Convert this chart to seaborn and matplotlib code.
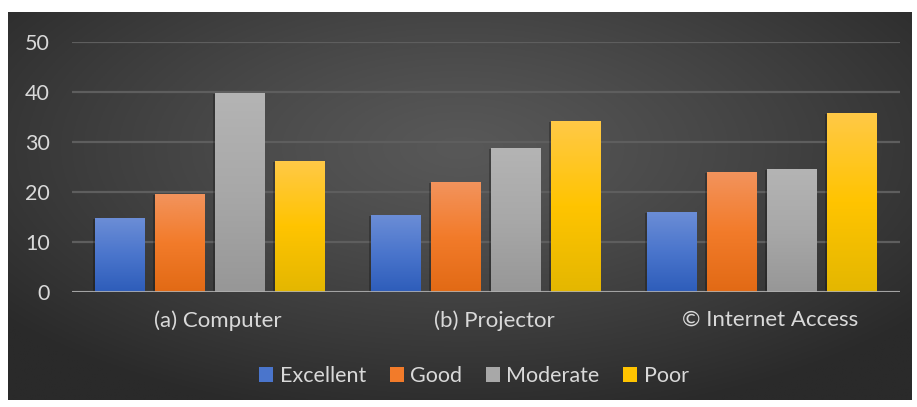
import numpy as np
import pandas as pd
import seaborn as sns
import matplotlib.pyplot as plt
import matplotlib.transforms as mtransforms
from matplotlib.patches import Patch
import matplotlib.patheffects as pe

# data
categories = ['(a) Computer', '(b) Projector', '© Internet Access']
levels = ['Excellent', 'Good', 'Moderate', 'Poor']
excellent = [14.8, 15.4, 16.0]
good = [19.6, 22.0, 24.0]
moderate = [39.8, 28.8, 24.6]
poor = [26.2, 34.2, 35.8]

# gradient colours per level (top, middle, bottom)
grad = {
    'Excellent': ['#6B8DD6', '#4A75CC', '#2E5DBA'],
    'Good': ['#F2935C', '#F27B2A', '#E26A15'],
    'Moderate': ['#B4B4B4', '#A8A8A8', '#979797'],
    'Poor': ['#FFC946', '#FFC400', '#E4B700'],
}

df = pd.DataFrame({
    'device': categories * 4,
    'level': [l for l in levels for _ in categories],
    'value': excellent + good + moderate + poor,
})

sns.set_theme(style='dark')
plt.rcParams['font.family'] = ['Lato', 'DejaVu Sans']
txt = '#D9D9D9'

W, H = 917, 407
fig = plt.figure(figsize=(W / 100, H / 100), dpi=100, facecolor='white')

# dark radial background
bg = fig.add_axes([8 / W, 1 - 400 / H, (912 - 8) / W, (400 - 12) / H])
yy, xx = np.mgrid[-1:1:200j, -1:1:400j]
r = np.sqrt((xx / 1.0) ** 2 + ((yy + 0.3) / 1.1) ** 2)
r = np.clip(r / 1.3, 0, 1) ** 1.2
c0, c1 = np.array([0x58, 0x58, 0x58]) / 255, np.array([0x2A, 0x2A, 0x2A]) / 255
img = c0[None, None, :] * (1 - r[..., None]) + c1[None, None, :] * r[..., None]
bg.imshow(img, aspect='auto', extent=(0, 1, 0, 1), origin='upper')
bg.set_axis_off()

ax = fig.add_axes([72 / W, 1 - 292 / H, (900 - 72) / W, 250 / H])
ax.set_facecolor('none')
pal = {k: v[1] for k, v in grad.items()}
sns.barplot(data=df, x='device', y='value', hue='level', palette=pal,
            width=0.87, gap=0.18, ax=ax, legend=False, zorder=3)

# gradient fill inside each bar
for bar in list(ax.patches):
    fc = bar.get_facecolor()
    key = min(grad, key=lambda k: np.sum((np.array(plt.matplotlib.colors.to_rgb(grad[k][1])) - np.array(fc[:3])) ** 2))
    x0, y0 = bar.get_x(), bar.get_y()
    w, h = bar.get_width(), bar.get_height()
    if h <= 0:
        continue
    cmap = plt.matplotlib.colors.LinearSegmentedColormap.from_list('g', grad[key][::-1])
    bar.set_edgecolor('none')
    bar.set_path_effects([pe.SimplePatchShadow(offset=(-1.5, -1), shadow_rgbFace='black', alpha=0.25), pe.Normal()])
    bar.set_facecolor((0, 0, 0, 0.01))
    im = ax.imshow(np.linspace(0, 1, 100)[::-1].reshape(-1, 1), cmap=cmap, aspect='auto',
                   extent=(x0, x0 + w, y0, y0 + h), zorder=4)
    im.set_clip_path(bar)

ax.set_xlim(-0.5, 2.5)
ax.set_ylim(0, 50)
ax.set_yticks(range(0, 51, 10))
ax.yaxis.grid(True, color='#5E5E5E', linewidth=1.6, zorder=0)
ax.xaxis.grid(False)
ax.axhline(0, color='#B0B0B0', linewidth=2.2, alpha=0.85, zorder=6)
for s in ax.spines.values():
    s.set_visible(False)
ax.set_xlabel('')
ax.set_ylabel('')
ax.tick_params(axis='y', colors=txt, labelsize=15.5, length=0, pad=16)
ax.tick_params(axis='x', colors=txt, labelsize=16, length=0, pad=13)
shift = mtransforms.ScaledTranslation(8 / 100, 0, fig.dpi_scale_trans)
for lab in ax.get_xticklabels():
    lab.set_transform(lab.get_transform() + shift)

handles = [Patch(facecolor=grad[l][1], edgecolor='none') for l in levels]
fig.legend(handles, levels, loc='center', bbox_to_anchor=(474 / W, 1 - 376 / H), ncol=4,
           frameon=False, labelcolor=txt, fontsize=15.5, handlelength=0.65, handleheight=0.65,
           handletextpad=0.3, columnspacing=1.1)

fig.savefig('out.png', dpi=100, facecolor='white')
